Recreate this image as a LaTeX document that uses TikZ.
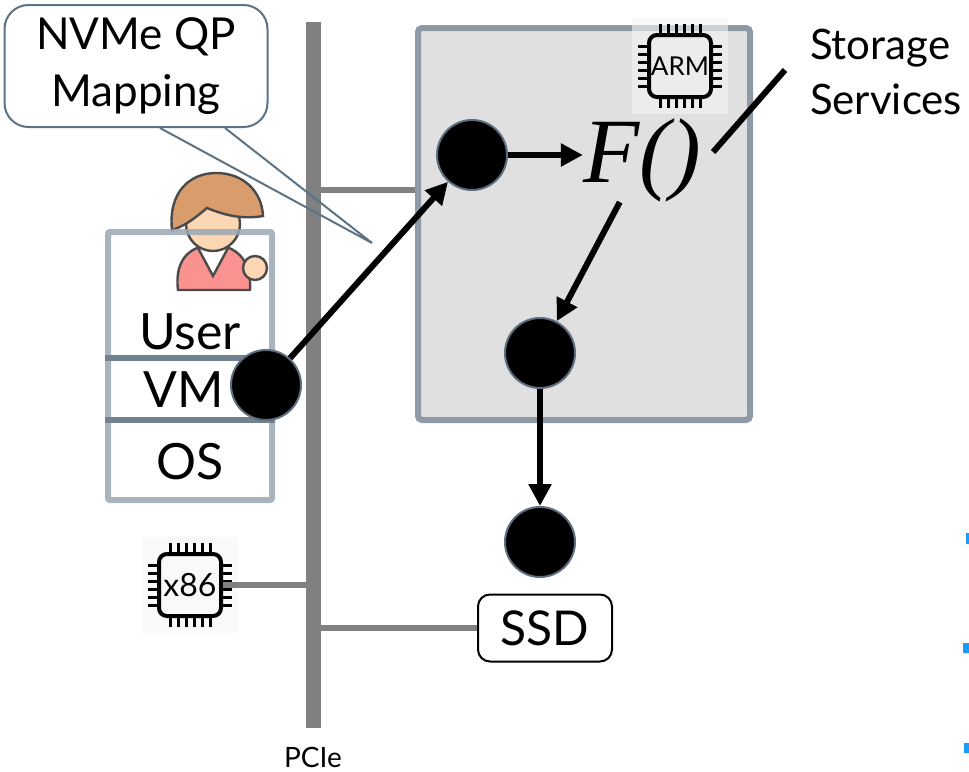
\documentclass[tikz,border=0pt]{standalone}
\usepackage{fontspec}
\setmainfont{Lato}
\newfontfamily\funcfont{Liberation Serif}
\usetikzlibrary{arrows.meta,positioning,calc}

\definecolor{busgray}{HTML}{808080}
\definecolor{nicfill}{HTML}{E0E0E0}
\definecolor{nicedge}{HTML}{8E9AA6}
\definecolor{vmedge}{HTML}{9BA7B3}
\definecolor{vmrule}{HTML}{728290}
\definecolor{tailedge}{HTML}{5B7384}
\definecolor{dotedge}{HTML}{5E6E7E}
\definecolor{hair}{HTML}{D99C6C}
\definecolor{skin}{HTML}{FDD6B3}
\definecolor{shirt}{HTML}{FA928F}
\definecolor{outline}{HTML}{4A4A4A}
\definecolor{tick}{HTML}{1A9CFF}

\tikzset{
  dot/.style={circle,fill=black,draw=dotedge,line width=1pt,minimum size=35pt,inner sep=0pt},
  flow/.style={line width=3pt,-{Triangle[length=11pt,width=11pt]}},
  link/.style={busgray,line width=3pt},
  label/.style={font=\fontsize{25}{25}\selectfont,inner sep=0pt},
  pics/chip/.style n args={2}{code={
    \fill[black!4,fill opacity=0.6] (-48,-48) rectangle (48,48);
    \node[draw,line width=2pt,rounded corners=4pt,minimum size=31pt,inner sep=0pt,
      font=#2] (-body) {#1};
    \foreach \k in {-20,-12,...,20}
      \draw[line width=1.5pt] (\k,-31) -- (\k,-42) (\k,31) -- (\k,42)
        (-31,\k) -- (-42,\k) (31,\k) -- (42,\k);
  }}
}

\begin{document}
\begin{tikzpicture}[x=0.5pt,y=-0.5pt]
  \useasboundingbox (0,0) rectangle (969,771);

  % smart NIC
  \node[fill=nicfill,draw=nicedge,line width=3pt,rounded corners=2pt,
    minimum width=166pt,minimum height=196pt] (nic) at (584,224) {};
  \pic (arm) at (680,66) {chip={ARM}{\fontsize{13}{13}\selectfont}};

  % PCIe bus and its links
  \coordinate (bustop) at (313,22);
  \coordinate (busbot) at (313,728);
  \node[font=\fontsize{14}{14}\selectfont,below=6pt of busbot] (pcie) {PCIe};
  \pic (cpu) at (190,585) {chip={x86}{\fontsize{16}{16}\selectfont}};
  \node[draw,fill=white,line width=1pt,rounded corners=6pt,minimum width=67pt,
    minimum height=33.5pt,font=\fontsize{24}{24}\selectfont] (ssd) at (545,628) {SSD};
  \coordinate (niclink) at ($(nic.west)+(0,-34)$);
  \draw[link] (niclink) -- (niclink -| bustop);
  \draw[link] (cpu-body.east) -- (cpu-body.east -| bustop);
  \draw[link] (ssd.west) -- (ssd.west -| bustop);
  \draw[busgray,line width=7.5pt] (bustop) -- (busbot);

  % user
  \draw[outline,line width=1.2pt,fill=shirt] (178,290) .. controls (174,258) and (192,245) .. (213,245)
    .. controls (234,245) and (252,258) .. (250,290) -- cycle;
  \draw[outline,line width=1.2pt,fill=white] (198,248) -- (213,276) -- (228,248) -- cycle;
  \draw[outline,line width=1.2pt,fill=skin] (213,224) circle (27);
  \draw[outline,line width=1.2pt,fill=hair] (172,230) .. controls (168,192) and (190,173) .. (216,173)
    .. controls (244,173) and (262,192) .. (263,216) .. controls (240,220) and (222,214) .. (207,208)
    .. controls (195,218) and (185,226) .. (172,230) -- cycle;
  \draw[outline,line width=1.2pt,fill=skin] (255,268) circle (12);

  % VM
  \node[draw=vmedge,draw opacity=0.85,line width=3pt,rounded corners=1pt,
    minimum width=82pt,minimum height=134pt] (vm) at (190,366) {};
  \draw[vmrule,line width=3pt] (vm.west |- 0,358) -- (vm.east |- 0,358)
    (vm.west |- 0,420) -- (vm.east |- 0,420);
  \node[label] (user) at (190,332) {User};
  \node[label] (vmtext) at (184,390) {VM};
  \node[label] (os) at (190,462) {OS};

  % queue pair mapping
  \node[draw=tailedge,fill=white,line width=1pt,rounded corners=12pt,align=center,
    minimum width=131.5pt,minimum height=61pt,
    font=\fontsize{22}{28.5}\selectfont] (qpmap) at (136,66) {NVMe QP\\Mapping};
  \coordinate (tip) at (372,243);
  \draw[tailedge,line width=1pt] ($(qpmap.south)+(24,0)$) -- (tip) -- ($(qpmap.south)+(89,0)$);

  % data path
  \node[dot] (dvm) at (266,385) {};
  \node[dot] (din) at (472,155) {};
  \node[dot] (dout) at (540,353) {};
  \node[dot,below=58.5pt of dout] (dssd) {};
  \node[inner sep=0pt,font=\funcfont\itshape\fontsize{46}{46}\selectfont] (func) at (642,160) {F()};
  \node[anchor=west,align=left,font=\fontsize{21}{27.5}\selectfont] (storage) at (803,72) {Storage\\Services};

  \draw[flow] (dvm) -- (din);
  \draw[flow] (din) -- (din -| func.west);
  \draw[flow] (func) -- (dout);
  \draw[flow] (dout) -- (dssd);
  \draw[line width=3pt] ($(func.east)+(12,-8)$) -- ($(storage.west)+(-18,-2)$);

  % cut marks at the edge
  \fill[tick] (966,533) rectangle (969,544) (963,643) rectangle (969,653) (964,743) rectangle (969,753);
\end{tikzpicture}
\end{document}
